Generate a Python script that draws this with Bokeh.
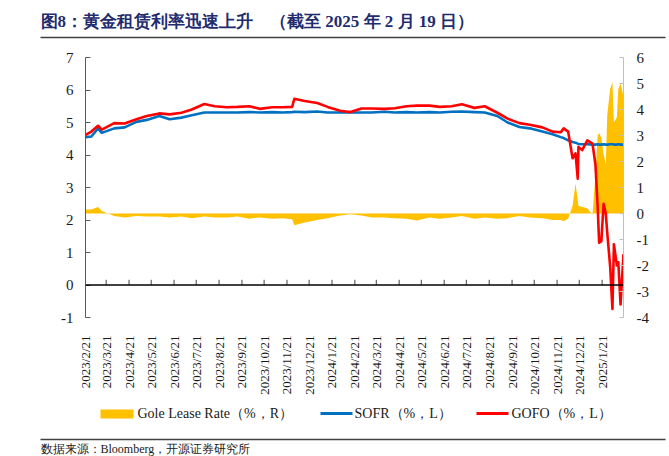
import pandas as pd
from math import pi
from bokeh.plotting import figure
from bokeh.layouts import column
from bokeh.models import Range1d, LinearAxis, FixedTicker, Span
from bokeh.embed import file_html
from bokeh.resources import INLINE
from bokeh.core.properties import value

# ---------------- data ----------------
dates = [
    "2023-02-21", "2023-03-01", "2023-03-10", "2023-03-15", "2023-04-01", "2023-04-15",
    "2023-05-01", "2023-05-15", "2023-06-01", "2023-06-15", "2023-07-01", "2023-07-15",
    "2023-08-01", "2023-08-15", "2023-09-01", "2023-09-15", "2023-10-01", "2023-10-15",
    "2023-11-01", "2023-11-15", "2023-11-28", "2023-12-01", "2023-12-15",
    "2024-01-01", "2024-01-15", "2024-02-01", "2024-02-15", "2024-03-01", "2024-03-15",
    "2024-04-01", "2024-04-15", "2024-05-01", "2024-05-15", "2024-06-01", "2024-06-15",
    "2024-07-01", "2024-07-15", "2024-08-01", "2024-08-15", "2024-09-01", "2024-09-15",
    "2024-10-01", "2024-10-15", "2024-11-01", "2024-11-15", "2024-11-26", "2024-11-30",
    "2024-12-06", "2024-12-12", "2024-12-16", "2024-12-19", "2024-12-20", "2024-12-25",
    "2025-01-01", "2025-01-08", "2025-01-12", "2025-01-15", "2025-01-17", "2025-01-20",
    "2025-01-23", "2025-01-26", "2025-01-28", "2025-02-01", "2025-02-04", "2025-02-06",
    "2025-02-10", "2025-02-12", "2025-02-15", "2025-02-19",
]
gofo = [
    4.62, 4.72, 4.90, 4.78, 4.98, 4.97,
    5.10, 5.20, 5.28, 5.25, 5.30, 5.40,
    5.57, 5.50, 5.47, 5.48, 5.50, 5.42,
    5.47, 5.47, 5.48, 5.73, 5.66,
    5.60, 5.48, 5.36, 5.32, 5.43, 5.43,
    5.42, 5.44, 5.50, 5.52, 5.52, 5.48,
    5.50, 5.56, 5.45, 5.50, 5.30, 5.12,
    4.98, 4.93, 4.85, 4.72, 4.70, 4.82,
    4.72, 3.90, 4.05, 3.27, 4.25, 4.15,
    4.45, 4.35, 3.70, 2.40, 1.30, 1.35,
    2.50, 2.20, 1.60, 0.55, -0.74, 1.25,
    0.60, 0.70, -0.60, 0.95,
]
sofr = [
    4.55, 4.57, 4.82, 4.68, 4.82, 4.85,
    5.02, 5.08, 5.20, 5.10, 5.15, 5.22,
    5.31, 5.31, 5.31, 5.31, 5.32, 5.31,
    5.32, 5.31, 5.32, 5.33, 5.32,
    5.34, 5.31, 5.31, 5.31, 5.31, 5.31,
    5.33, 5.31, 5.32, 5.31, 5.32, 5.31,
    5.33, 5.34, 5.32, 5.31, 5.20, 5.00,
    4.86, 4.82, 4.72, 4.64, 4.55, 4.52,
    4.45, 4.40, 4.38, 4.35, 4.34, 4.33,
    4.33, 4.32, 4.32, 4.33, 4.32, 4.32,
    4.33, 4.32, 4.32, 4.33, 4.33, 4.32,
    4.32, 4.33, 4.32, 4.32,
]
lease = [
    0.15, 0.15, 0.25, 0.10, -0.10, -0.15,
    -0.10, -0.12, -0.12, -0.15, -0.12, -0.18,
    -0.12, -0.15, -0.15, -0.12, -0.20, -0.15,
    -0.20, -0.18, -0.22, -0.45, -0.35,
    -0.25, -0.18, -0.08, -0.03, -0.08, -0.15,
    -0.15, -0.18, -0.20, -0.27, -0.15, -0.20,
    -0.15, -0.10, -0.20, -0.15, -0.20, -0.18,
    -0.10, -0.15, -0.18, -0.25, -0.25, -0.30,
    -0.20, 0.30, 1.15, 0.50, 0.30, 0.25,
    0.20, -0.05, 1.50, 3.00, 3.10, 2.90,
    2.30, 1.90, 3.80, 4.80, 5.05, 3.50,
    3.70, 4.80, 5.00, 4.50,
]
tick_labels = [
    "2023/2/21", "2023/3/21", "2023/4/21", "2023/5/21", "2023/6/21", "2023/7/21",
    "2023/8/21", "2023/9/21", "2023/10/21", "2023/11/21", "2023/12/21", "2024/1/21",
    "2024/2/21", "2024/3/21", "2024/4/21", "2024/5/21", "2024/6/21", "2024/7/21",
    "2024/8/21", "2024/9/21", "2024/10/21", "2024/11/21", "2024/12/21", "2025/1/21",
]
left_ticks = [-1, 0, 1, 2, 3, 4, 5, 6, 7]
right_ticks = [-4, -3, -2, -1, 0, 1, 2, 3, 4, 5, 6]

title_text = "图8：黄金租赁利率迅速上升　（截至 2025 年 2 月 19 日）"
legend_texts = ["Gole Lease Rate（%，R）", "SOFR（%，L）", "GOFO（%，L）"]
source_text = "数据来源：Bloomberg，开源证券研究所"

# ---------------- derived x positions ----------------
start = pd.Timestamp("2023-02-21")
end = pd.Timestamp("2025-02-19")
x = [(pd.Timestamp(d) - start).days for d in dates]
tick_x = [(pd.to_datetime(t, format="%Y/%m/%d") - start).days for t in tick_labels]

SERIF = "Liberation Serif"
GOLD = "#FFC000"
BLUE = "#0070C0"
RED = "#FF0000"
RULE = "#404040"
W = 669


def strip(h, frame_h, rule_width=None):
    """A text strip. If rule_width is given, the strip's frame spans x=40..665 and a
    horizontal rule (an axis line) is drawn along the frame's bottom edge."""
    if rule_width is None:
        f = figure(width=W, height=h, output_backend="svg", toolbar_location=None,
                   title=None, x_range=Range1d(0, W), y_range=Range1d(0, h), min_border=0,
                   x_axis_location=None, y_axis_location=None, frame_align=False)
    else:
        f = figure(width=W, height=h, output_backend="svg", toolbar_location=None,
                   title=None, x_range=Range1d(40, 665), y_range=Range1d(0, frame_h),
                   min_border_left=40, min_border_right=W - 665, min_border_top=0,
                   min_border_bottom=h - frame_h,
                   x_axis_location=None, y_axis_location=None, frame_align=False)
        ax = LinearAxis(ticker=FixedTicker(ticks=[]))
        ax.axis_line_color = RULE
        ax.axis_line_width = rule_width
        ax.major_tick_line_color = None
        ax.minor_tick_line_color = None
        ax.major_tick_in = 0
        ax.major_tick_out = 0
        ax.minor_tick_in = 0
        ax.minor_tick_out = 0
        ax.major_label_standoff = 0
        ax.major_label_text_font_size = "0px"
        f.add_layout(ax, "below")
    f.outline_line_color = None
    f.grid.visible = False
    f.background_fill_color = "white"
    f.border_fill_color = "white"
    return f


# ---------------- header (title + rule at y=37) ----------------
top = strip(45, 37, rule_width=1.6)
top.text(x=[40], y=[37 - 21], text=[title_text], text_font=value(SERIF),
         text_font_size=value("17px"), text_font_style="bold", text_color="#1F2C6E",
         text_baseline="middle")

# ---------------- main chart ----------------
p = figure(width=W, height=355, output_backend="svg", toolbar_location=None, title=None,
           x_range=Range1d(0, (end - start).days), y_range=Range1d(-1, 7),
           min_border_left=85, min_border_right=46, min_border_top=12, min_border_bottom=83)
p.extra_y_ranges = {"r": Range1d(-4, 6)}
p.outline_line_color = None
p.grid.visible = False
p.background_fill_color = "white"
p.border_fill_color = "white"

xa = p.xaxis[0]
xa.ticker = FixedTicker(ticks=tick_x)
xa.major_label_overrides = {tx: lab for tx, lab in zip(tick_x, tick_labels)}
xa.major_label_orientation = pi / 2
xa.axis_line_color = None
xa.major_tick_line_color = None
xa.minor_tick_line_color = None
xa.major_label_standoff = 12
xa.major_label_text_font = SERIF
xa.major_label_text_font_size = "13px"
xa.major_label_text_color = "#1a1a1a"

ya = p.yaxis[0]
ya.ticker = FixedTicker(ticks=left_ticks)
ya.major_label_overrides = {t: str(t) for t in left_ticks}
ya.axis_line_color = "#595959"
ya.major_tick_line_color = "#595959"
ya.major_tick_in = 5
ya.major_tick_out = 0
ya.minor_tick_line_color = None
ya.major_label_standoff = 12
ya.major_label_text_font = SERIF
ya.major_label_text_font_size = "15px"
ya.major_label_text_color = "#1a1a1a"

ra = LinearAxis(y_range_name="r", ticker=FixedTicker(ticks=right_ticks))
ra.major_label_overrides = {t: str(t) for t in right_ticks}
ra.axis_line_color = "#BFBFBF"
ra.major_tick_line_color = "#BFBFBF"
ra.major_tick_in = 4
ra.major_tick_out = 0
ra.minor_tick_line_color = None
ra.major_label_standoff = 13
ra.major_label_text_font = SERIF
ra.major_label_text_font_size = "15px"
ra.major_label_text_color = "#1a1a1a"
p.add_layout(ra, "right")

p.varea(x=x, y1=0, y2=lease, y_range_name="r", fill_color=GOLD, fill_alpha=1)
p.line(x, sofr, line_color=BLUE, line_width=2.6, line_join="round")
p.line(x, gofo, line_color=RED, line_width=2.6, line_join="round")

p.add_layout(Span(location=0, dimension="width", line_color="black", line_width=1.3))
p.segment(x0=tick_x, y0=0, x1=tick_x, y1=0.16, line_color="#404040", line_width=1)

# ---------------- legend (rule along its bottom at y=39) ----------------
LF = 39
leg = strip(41, LF, rule_width=1.3)
leg.quad(left=[100], right=[133], top=[LF - 9], bottom=[LF - 18], fill_color=GOLD,
         line_color=None)
leg.quad(left=[320], right=[352], top=[LF - 11.5], bottom=[LF - 14.5], fill_color=BLUE,
         line_color=None)
leg.quad(left=[476], right=[508], top=[LF - 11.5], bottom=[LF - 14.5], fill_color=RED,
         line_color=None)
leg.text(x=[137, 354, 511], y=[LF - 13] * 3, text=legend_texts, text_font=value(SERIF),
         text_font_size=value("14px"), text_color="#1a1a1a", text_baseline="middle")

# ---------------- source ----------------
src = strip(15, 15)
src.text(x=[40], y=[1], text=[source_text], text_font=value(SERIF),
         text_font_size=value("12px"), text_color="#1a1a1a", text_baseline="bottom")

layout = column(top, p, leg, src, spacing=0)
open("out.html", "w").write(file_html(layout, INLINE))
